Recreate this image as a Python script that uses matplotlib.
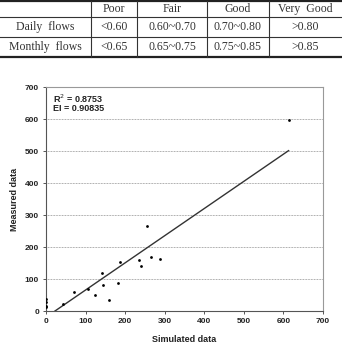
import numpy as np
import matplotlib.pyplot as plt

# table contents
col_labels = ['Poor', 'Fair', 'Good', 'Very  Good']
row_labels = ['Daily  flows', 'Monthly  flows']
cell_values = [['<0.60', '0.60~0.70', '0.70~0.80', '>0.80'],
               ['<0.65', '0.65~0.75', '0.75~0.85', '>0.85']]

# scatter data (simulated vs measured)
sim = [0, 0, 0, 0, 44, 72, 105, 124, 142, 143, 159, 181, 187, 235, 241, 255, 266, 288, 614]
meas = [36, 28, 15, 13, 21, 58, 69, 51, 120, 80, 33, 88, 153, 158, 141, 266, 168, 164, 597]

# trend line
slope = 0.849
intercept = -19.3
line_x = [22.7, 613]

r2_text = 'R$^2$ = 0.8753'
ei_text = 'EI = 0.90835'

W, H = 342, 346
fig = plt.figure(figsize=(W / 100, H / 100), dpi=100)

# ---- table drawn in pixel coords ----
tab = fig.add_axes([0, 0, 1, 1])
tab.set_xlim(0, W)
tab.set_ylim(H, 0)
tab.axis('off')

col_edges = [0, 91, 137, 207, 269, 342]
row_edges = [1, 17, 37, 57]
serif = ['Liberation Serif', 'DejaVu Serif']

tab.plot([0, W], [row_edges[0]] * 2, color='#222', lw=1.6)
tab.plot([0, W], [row_edges[-1]] * 2, color='#222', lw=1.6)
for y in row_edges[1:-1]:
    tab.plot([0, W], [y, y], color='#333', lw=0.8)
for x in col_edges[1:-1]:
    tab.plot([x, x], [row_edges[0], row_edges[-1]], color='#333', lw=0.8)

def cx(i):
    return (col_edges[i] + col_edges[i + 1]) / 2

def cy(j):
    return (row_edges[j] + row_edges[j + 1]) / 2

for i, lab in enumerate(col_labels):
    tab.text(cx(i + 1), cy(0), lab, ha='center', va='center', fontsize=8.5, family=serif, color='#333')
for j, lab in enumerate(row_labels):
    tab.text(cx(0), cy(j + 1), lab, ha='center', va='center', fontsize=8.5, family=serif, color='#333')
    for i, v in enumerate(cell_values[j]):
        tab.text(cx(i + 1), cy(j + 1), v, ha='center', va='center', fontsize=8.5, family=serif, color='#333')

# ---- scatter plot ----
ax = fig.add_axes([46 / W, 1 - 311 / H, (323 - 46) / W, (311 - 87) / H])
ax.scatter(sim, meas, s=4, color='black', zorder=3, linewidths=0)
lx = np.array(line_x)
ax.plot(lx, slope * lx + intercept, color='#333', lw=1.0, zorder=2)

ax.set_xlim(0, 700)
ax.set_ylim(0, 700)
ax.set_xticks(range(0, 701, 100))
ax.set_yticks(range(0, 701, 100))
for y in range(100, 700, 100):
    ax.axhline(y, color='#999', lw=0.7, ls=(0, (0.8, 0.8)), zorder=1)

sans = ['Liberation Sans', 'DejaVu Sans']
for lab in ax.get_xticklabels() + ax.get_yticklabels():
    lab.set_fontfamily(sans)
    lab.set_fontweight('bold')
    lab.set_fontsize(6)
    lab.set_color('#222')
ax.tick_params(axis='both', length=2.5, width=0.7, color='#555', pad=2.5)

ax.spines['left'].set_color('#555')
ax.spines['bottom'].set_color('#555')
ax.spines['top'].set_color('#999')
ax.spines['right'].set_color('#999')
for s in ax.spines.values():
    s.set_linewidth(0.8)

ax.set_xlabel('Simulated data', fontsize=6.5, fontweight='bold', family=sans, labelpad=7, color='#222')
ax.set_ylabel('Measured data', fontsize=6.5, fontweight='bold', family=sans, labelpad=4, color='#222')

ax.text(0.025, 0.975, r2_text, transform=ax.transAxes, ha='left', va='top', fontsize=6.5, fontweight='bold', family=sans, color='#222')
ax.text(0.025, 0.925, ei_text, transform=ax.transAxes, ha='left', va='top', fontsize=6.5, fontweight='bold', family=sans, color='#222')

fig.savefig('out.png', dpi=100)
